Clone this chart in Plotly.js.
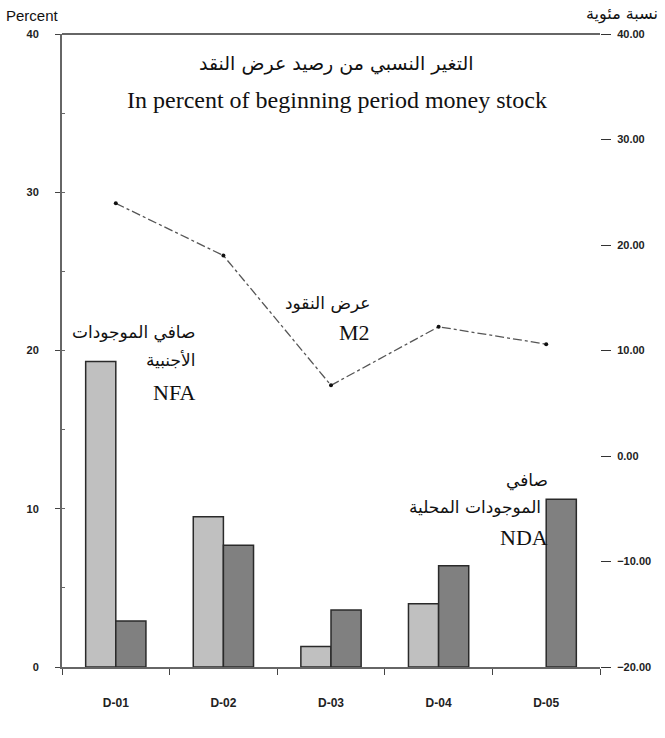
<!DOCTYPE html>
<html>
<head>
<meta charset="utf-8">
<script src="https://cdn.plot.ly/plotly-3.0.1.min.js"></script>
<style>html,body{margin:0;padding:0;background:#fff;}#chart{width:665px;height:738px;}</style>
</head>
<body>
<div id="chart"></div>
<script>
// Data
const categories = ["D-01", "D-02", "D-03", "D-04", "D-05"];
const nfaValues = [19.3, 9.5, 1.3, 4.0, null];
const ndaValues = [2.9, 7.7, 3.6, 6.4, 10.6];
const m2Values = [29.3, 26.0, 17.8, 21.5, 20.4];
const leftTicks = [0, 10, 20, 30, 40];
const rightTicks = [-20, -10, 0, 10, 20, 30, 40];

const arabicFont = "DejaVu Sans, sans-serif";
const serifFont = "Liberation Serif, Times New Roman, serif";

const traces = [
  {
    type: "bar", name: "NFA", x: categories, y: nfaValues,
    marker: {color: "#c0c0c0", line: {color: "#2a2a2a", width: 1.5}}
  },
  {
    type: "bar", name: "NDA", x: categories, y: ndaValues,
    marker: {color: "#808080", line: {color: "#2a2a2a", width: 1.5}}
  },
  {
    type: "scatter", mode: "lines+markers", name: "M2", x: categories, y: m2Values,
    line: {color: "#555", width: 1.3, dash: "dashdot"},
    marker: {color: "#111", size: 4}
  },
  {
    type: "scatter", mode: "none", x: categories, y: [null, null, null, null, null],
    yaxis: "y2", showlegend: false, hoverinfo: "skip"
  }
];

const ann = (text, x, y, anchor, font) => ({
  text, x, y, xref: "paper", yref: "paper", xanchor: anchor, yanchor: "middle",
  showarrow: false, font
});

const layout = {
  width: 665, height: 738,
  margin: {l: 62, r: 65, t: 34, b: 71},
  paper_bgcolor: "#fff", plot_bgcolor: "#fff",
  showlegend: false,
  barmode: "group", bargap: 0.44, bargroupgap: 0,
  xaxis: {
    type: "category", showline: true, linecolor: "#666", linewidth: 2, mirror: false,
    ticks: "outside", tickson: "boundaries", ticklen: 6, tickcolor: "#444",
    showgrid: false, zeroline: false,
    tickfont: {family: "Liberation Sans, Arial, sans-serif", size: 12, color: "#222", weight: "bold"},
    ticklabelstandoff: 24
  },
  yaxis: {
    range: [0, 40], tickvals: leftTicks, showline: true, linecolor: "#666", linewidth: 2,
    mirror: false,
    ticks: "outside", ticklen: 5, tickcolor: "#444", showgrid: false, zeroline: false,
    minor: {dtick: 5, ticks: "inside", ticklen: 3, tickcolor: "#666"},
    tickfont: {family: "Liberation Sans, Arial, sans-serif", size: 11, color: "#222", weight: "bold"},
    ticklabelstandoff: 14
  },
  yaxis2: {
    overlaying: "y", side: "right", range: [-20, 40], tickvals: rightTicks,
    tickformat: ".2f", showline: false, showgrid: false, zeroline: false,
    ticks: "outside", ticklen: 10, tickcolor: "#333",
    tickfont: {family: "Liberation Sans, Arial, sans-serif", size: 11, color: "#222", weight: "bold"},
    ticklabelstandoff: 4
  },
  shapes: [
    {type: "line", xref: "paper", yref: "paper", x0: 0, x1: 1, y0: 1, y1: 1,
     line: {color: "#666", width: 2}}
  ],
  annotations: [
    ann("التغير النسبي من رصيد عرض النقد", 0.511, 0.954, "center", {family: arabicFont, size: 19, color: "#111"}),
    ann("In percent of beginning period money stock", 0.511, 0.896, "center", {family: serifFont, size: 24, color: "#111"}),
    ann("Percent", -0.108, 1.03, "left", {family: "Liberation Sans, Arial, sans-serif", size: 15, color: "#111"}),
    ann("نسبة مئوية", 1.1115, 1.032, "right", {family: arabicFont, size: 16, color: "#111"}),
    ann("صافي الموجودات", 0.251, 0.528, "right", {family: arabicFont, size: 17, color: "#111"}),
    ann("الأجنبية", 0.251, 0.485, "right", {family: arabicFont, size: 17, color: "#111"}),
    ann("NFA", 0.251, 0.433, "right", {family: serifFont, size: 22, color: "#111"}),
    ann("عرض النقود", 0.576, 0.575, "right", {family: arabicFont, size: 17, color: "#111"}),
    ann("M2", 0.576, 0.529, "right", {family: serifFont, size: 22, color: "#111"}),
    ann("صافي", 0.907, 0.295, "right", {family: arabicFont, size: 17, color: "#111"}),
    ann("الموجودات المحلية", 0.894, 0.253, "right", {family: arabicFont, size: 17, color: "#111"}),
    ann("NDA", 0.907, 0.204, "right", {family: serifFont, size: 22, color: "#111"})
  ]
};

Plotly.newPlot("chart", traces, layout, {displayModeBar: false, staticPlot: true});
</script>
</body>
</html>
